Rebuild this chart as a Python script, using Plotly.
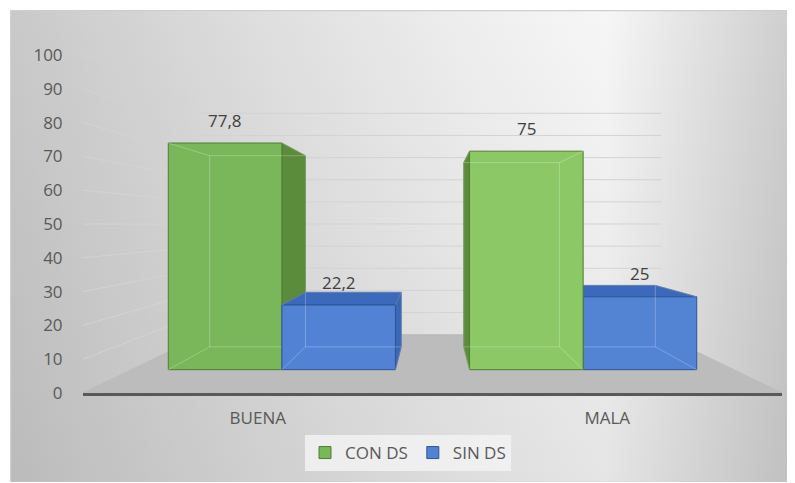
import base64
import plotly.graph_objects as go

# ---------------- data ----------------
categories = ["BUENA", "MALA"]
series_names = ["CON DS", "SIN DS"]
con_ds = [77.8, 75]
sin_ds = [22.2, 25]
y_ticks = [0, 10, 20, 30, 40, 50, 60, 70, 80, 90, 100]

# ---------------- style / geometry ----------------
FONT = "Open Sans"
FS = 17
TXT = "#595959"
LBL = "#404040"
GREEN = dict(front=["#7ab75a", "#8dc867"], side="#5b8c3c", top="#6aa348", edge="#4f7d31")
BLUE = dict(front=["#5182d3", "#5383d3"], side="#3c67b5", top="#3d69bd", edge="#2f5597")
COLORS = [GREEN, BLUE]

OFF = 8  # page body offset of the figure
W, H = 795 - OFF, 483 - OFF
ML, MR, MT, MB = 83 - OFF, 13, 55 - OFF, 90
PW, PH = W - ML - MR, H - MT - MB

# pseudo-3D perspective (vanishing point at plot centre)
VX, VY = 0.5, 50.0
K_BAR_FRONT = 0.862
K_BAR_BACK = 0.727
K_WALL = 0.655
BW = 0.377  # bar width in category units


def proj(X, v, k):
    return VX + (X - VX) * k, VY + (v - VY) * k


def poly(pts, fill, line, width=1.0):
    xs, ys = [], []
    for (X, v, k) in pts + [pts[0]]:
        px, py = proj(X, v, k)
        xs.append(px)
        ys.append(py)
    return go.Scatter(x=xs, y=ys, mode="lines", fill="toself", fillcolor=fill,
                      line=dict(color=line, width=width), hoverinfo="skip",
                      showlegend=False)


fig = go.Figure()

# walls: side-wall and back-wall gridlines
gx, gy = [], []
for t in y_ticks[1:]:
    for (X, k) in [(-0.5, 1.0), (-0.5, K_WALL), (1.5, K_WALL)]:
        px, py = proj(X, t, k)
        gx.append(px)
        gy.append(py)
    gx.append(None)
    gy.append(None)
fig.add_trace(go.Scatter(x=gx, y=gy, mode="lines", line=dict(color="#d3d3d3", width=1),
                         hoverinfo="skip", showlegend=False))

# floor
fig.add_trace(poly([(-0.5, 0, 1.0), (1.5, 0, 1.0), (1.5, 0, K_WALL), (-0.5, 0, K_WALL)],
                   "#bcbcbc", "#bcbcbc"))

# bars
bars = []
values = [con_ds, sin_ds]
for i, cat in enumerate(categories):
    for j, vals in enumerate(values):
        x0 = i - BW + j * BW
        x1 = x0 + BW
        c = (x0 + x1) / 2
        bars.append((abs(c - VX), x0, x1, vals[i], COLORS[j], i))
bars.sort(key=lambda b: -b[0])

kf, kb = K_BAR_FRONT, K_BAR_BACK
for _, x0, x1, v, col, i in bars:
    if x1 < VX:
        fig.add_trace(poly([(x1, 0, kf), (x1, 0, kb), (x1, v, kb), (x1, v, kf)], col["side"], col["edge"]))
    if x0 > VX:
        fig.add_trace(poly([(x0, 0, kf), (x0, 0, kb), (x0, v, kb), (x0, v, kf)], col["side"], col["edge"]))
    if v < VY:
        fig.add_trace(poly([(x0, v, kf), (x1, v, kf), (x1, v, kb), (x0, v, kb)], col["top"], col["edge"]))
    fig.add_trace(poly([(x0, 0, kf), (x1, 0, kf), (x1, v, kf), (x0, v, kf)], col["front"][i], col["edge"]))
    # hidden (see-through) edges
    ex, ey = [], []
    for (X, vv) in [(x0, 0), (x1, 0), (x1, v), (x0, v), (x0, 0)]:
        px, py = proj(X, vv, kb)
        ex.append(px)
        ey.append(py)
    ex.append(None)
    ey.append(None)
    for X in (x0, x1):
        for vv in (0, v):
            for k in (kf, kb):
                px, py = proj(X, vv, k)
                ex.append(px)
                ey.append(py)
            ex.append(None)
            ey.append(None)
    fig.add_trace(go.Scatter(x=ex, y=ey, mode="lines", line=dict(color="rgba(255,255,255,0.25)", width=1),
                             hoverinfo="skip", showlegend=False))
    # data label
    cx, cy = proj((x0 + x1) / 2, v, kf)
    fig.add_annotation(x=cx, y=cy, text=f"{v:g}".replace(".", ","), showarrow=False,
                       yshift=23, font=dict(family=FONT, size=FS, color=LBL))

# legend entries
for name, col in zip(series_names, COLORS):
    fig.add_trace(go.Scatter(x=[None], y=[None], mode="markers", name=name,
                             marker=dict(symbol="square", size=12, color=col["front"][0],
                                         line=dict(color=col["edge"], width=1))))

# background panel (gradient), panel spans page px 10..795 x 10..482
pw, ph = 785, 472
svg = (
    f'<svg xmlns="http://www.w3.org/2000/svg" width="{pw}" height="{ph}" viewBox="0 0 {pw} {ph}">'
    '<defs>'
    '<linearGradient id="h" x1="0" y1="0" x2="1" y2="0">'
    '<stop offset="0" stop-color="#c9c9c9"/>'
    '<stop offset="0.3" stop-color="#dddddd"/>'
    '<stop offset="0.6" stop-color="#efefef"/>'
    '<stop offset="0.76" stop-color="#f6f6f6"/>'
    '<stop offset="1" stop-color="#cdcdcd"/>'
    '</linearGradient>'
    '<linearGradient id="v" x1="0" y1="0" x2="0" y2="1">'
    '<stop offset="0" stop-color="#000" stop-opacity="0"/>'
    '<stop offset="1" stop-color="#000" stop-opacity="0.07"/>'
    '</linearGradient>'
    '</defs>'
    f'<rect x="0" y="0" width="{pw}" height="{ph}" fill="url(#h)"/>'
    f'<rect x="0" y="0" width="{pw}" height="{ph}" fill="url(#v)"/>'
    f'<rect x="0.5" y="0.5" width="{pw}" height="{ph}" fill="none" stroke="#cfcfcf" stroke-width="1.5"/>'
    '</svg>'
)
src = "data:image/svg+xml;base64," + base64.b64encode(svg.encode()).decode()
px0, py0 = 10 - OFF, 10 - OFF
fig.add_layout_image(dict(source=src, xref="paper", yref="paper",
                          x=(px0 - ML) / PW, y=(MT + PH - py0) / PH,
                          sizex=pw / PW, sizey=ph / PH,
                          xanchor="left", yanchor="top", sizing="stretch", layer="below"))

fig.update_layout(
    width=W, height=H, autosize=False,
    margin=dict(l=ML, r=MR, t=MT, b=MB),
    paper_bgcolor="white", plot_bgcolor="rgba(0,0,0,0)",
    font=dict(family=FONT, size=FS, color=TXT),
    showlegend=True,
    legend=dict(orientation="h", x=(408 - OFF - ML) / PW, xanchor="center",
                y=-(453 - OFF - (MT + PH)) / PH, yanchor="middle",
                bgcolor="rgba(242,242,242,0.85)", borderwidth=0,
                font=dict(family=FONT, size=FS, color=TXT),
                itemwidth=30, tracegroupgap=0),
    xaxis=dict(range=[-0.5, 1.5], tickvals=[0, 1], ticktext=categories,
               showgrid=False, zeroline=False, showline=True, linecolor="#595959", linewidth=2.5,
               ticks="outside", ticklen=8, tickcolor="rgba(0,0,0,0)",
               tickfont=dict(family=FONT, size=FS, color=TXT), fixedrange=True),
    yaxis=dict(range=[0, 100], tickvals=y_ticks, showgrid=False, zeroline=False, showline=False,
               ticks="outside", ticklen=16, tickcolor="rgba(0,0,0,0)",
               tickfont=dict(family=FONT, size=FS, color=TXT), fixedrange=True),
)

fig.write_html("out.html")
